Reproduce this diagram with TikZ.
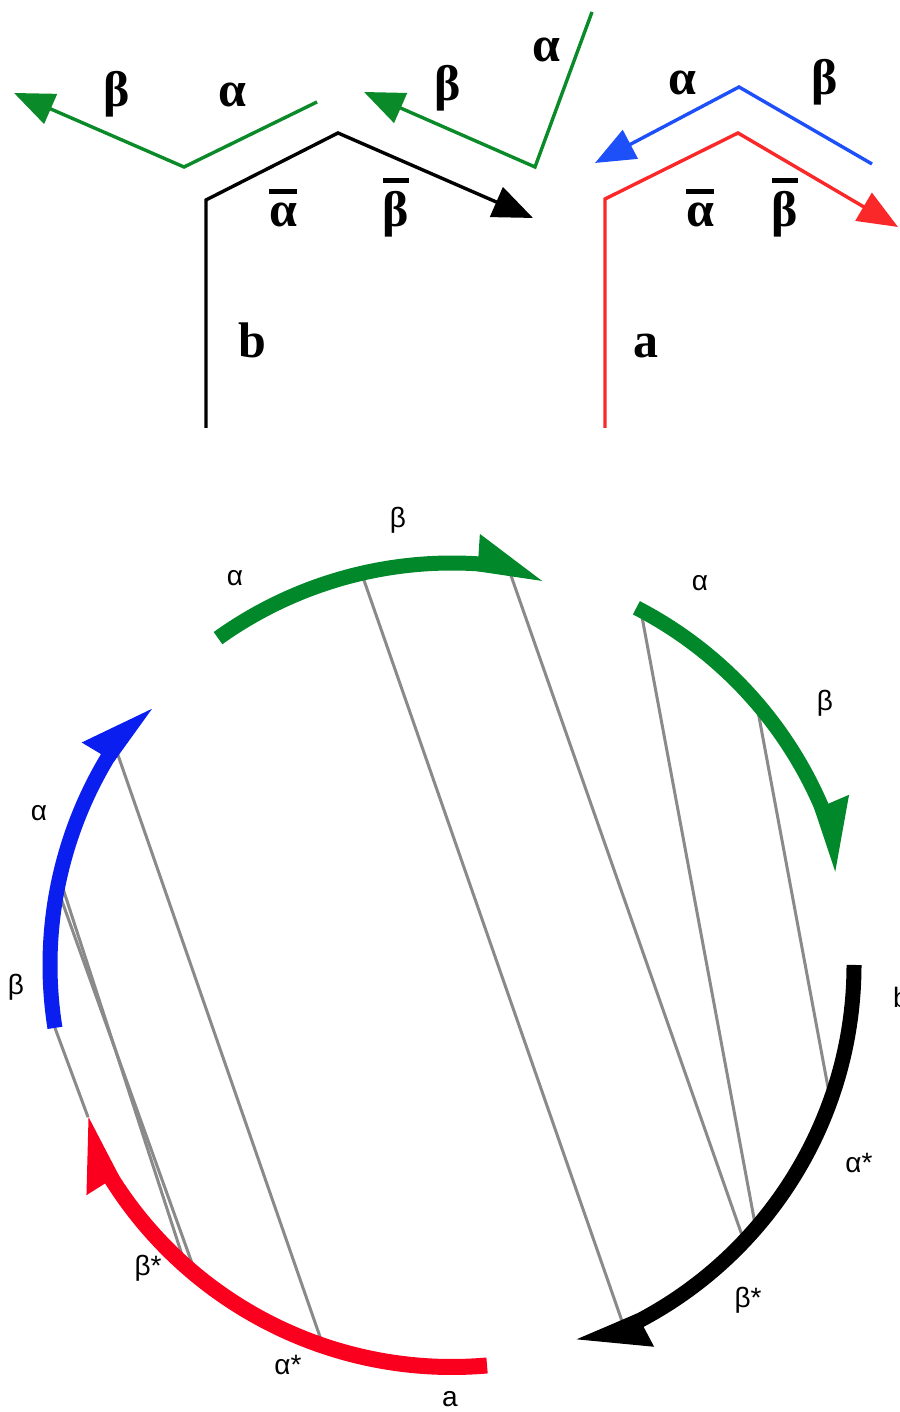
\documentclass[tikz,border=0pt]{standalone}
\usepackage{fontspec}
\setmainfont{Liberation Serif}
\newfontfamily\labelfont{Liberation Sans}
\usetikzlibrary{arrows.meta, calc}

\definecolor{strandgreen}{RGB}{10,138,40}
\definecolor{strandblue}{RGB}{30,80,250}
\definecolor{strandred}{RGB}{250,40,40}
\definecolor{circgreen}{RGB}{0,136,42}
\definecolor{circblue}{RGB}{10,30,240}
\definecolor{circred}{RGB}{250,0,30}
\definecolor{chordgray}{RGB}{138,138,138}

\newcommand{\barred}[1]{\vbox{\hrule height 5pt \kern 9pt \hbox{#1}}}

\begin{document}
\begin{tikzpicture}[
    x=1pt, y=1pt,
    strand/.style={line width=3.4pt, -{Triangle[length=40pt, width=32pt]}},
    biglabel/.style={font=\fontsize{50}{50}\selectfont\bfseries, anchor=base, inner sep=0pt},
    smalllabel/.style={font=\labelfont\fontsize{28}{28}\selectfont, inner sep=0pt},
    chord/.style={draw=chordgray, line width=3pt},
    band/.style={line width=15pt}
]
\useasboundingbox (0,0) rectangle (899,1412);

% top: strand b with its partner
\coordinate (g1s) at (317,1310);
\coordinate (g1c) at (184,1245);
\coordinate (g1t) at (14,1319);
\draw[strand, strandgreen] (g1s) -- (g1c) -- (g1t);
\coordinate (b0) at (206,984);
\coordinate (b1) at (206,1212);
\coordinate (b2) at (338,1279);
\coordinate (b3) at (533,1194);
\draw[strand, black] (b0) -- (b1) -- (b2) -- (b3);
\coordinate (g2s) at (592,1400);
\coordinate (g2c) at (535,1245);
\coordinate (g2t) at (364,1320);
\draw[strand, strandgreen] (g2s) -- (g2c) -- (g2t);
% top: strand a with its partner
\coordinate (u0) at (872,1248);
\coordinate (u1) at (739,1325);
\coordinate (u2) at (595,1249);
\draw[strand, strandblue] (u0) -- (u1) -- (u2);
\coordinate (a0) at (605,984);
\coordinate (a1) at (605,1213);
\coordinate (a2) at (738,1279);
\coordinate (a3) at (898,1185);
\draw[strand, strandred] (a0) -- (a1) -- (a2) -- (a3);

% top labels
\node[biglabel] (tb1) at (117,1305) {β};
\node[biglabel] (ta1) at (232,1305) {α};
\node[biglabel] (tab) at (283,1185) {\barred{α}};
\node[biglabel] (tbb) at (396,1185) {\barred{β}};
\node[biglabel] (tlb) at (252,1054) {b};
\node[biglabel] (tb2) at (448,1311) {β};
\node[biglabel] (ta2) at (546,1350) {α};
\node[biglabel] (ta3) at (682,1317) {α};
\node[biglabel] (tb3) at (825,1317) {β};
\node[biglabel] (tab2) at (700,1185) {\barred{α}};
\node[biglabel] (tbb2) at (785,1185) {\barred{β}};
\node[biglabel] (tla) at (646,1054) {a};

% bottom: circle
\coordinate (C) at (452,447);
\def\R{402}
% pairings
\foreach \i/\p/\q/\r in {1/103/-64.6/0, 2/82/-43.4/0, 3/62/-40.9/0, 4/40.8/-19.7/0,
                         5/147/251.3/0, 6/167.5/228.5/0, 7/169/230.5/0, 8/189/202.7/7.5}{
  \coordinate (p\i) at ($(C)+(\p:\R)$);
  \coordinate (q\i) at ($(C)+(\q:\R-\r)$);
  \draw[chord] (p\i) -- (q\i);
}
% segments
\foreach \col/\sa/\ea/\w in {circgreen/125.6/76.8/15, circgreen/62.7/13.7/15, black/0/-71.6/15,
                             circred/-85/-157.3/16, circblue/189/139.5/15}{
  \pgfmathsetmacro{\eb}{\ea+9.5}
  \pgfmathsetmacro{\ec}{\eb-1}
  \draw[band, line width=\w pt, \col] ($(C)+(\sa:\R)$) arc[start angle=\sa, end angle=\ec, radius=\R];
  \fill[\col] ($(C)+(\ea:\R-\w/2)$) -- ($(C)+(\eb:\R-\w/2)$) -- ($(C)+(\eb:\R+30)$) -- cycle;
}

% bottom labels
\node[smalllabel] (la1) at (235,834) {α};
\node[smalllabel] (lb1) at (398,892) {β};
\node[smalllabel] (la2) at (700,829) {α};
\node[smalllabel] (lb2) at (825,709) {β};
\node[smalllabel] (la3) at (39,599) {α};
\node[smalllabel] (lb3) at (16,425) {β};
\node[smalllabel] (lbs1) at (148,144) {β*};
\node[smalllabel] (las1) at (288,47) {α*};
\node[smalllabel] (lca) at (450,13) {a};
\node[smalllabel] (las2) at (859,249) {α*};
\node[smalllabel] (lbs2) at (748,112) {β*};
\node[smalllabel] (lcb) at (901,415) {b};
\end{tikzpicture}
\end{document}
